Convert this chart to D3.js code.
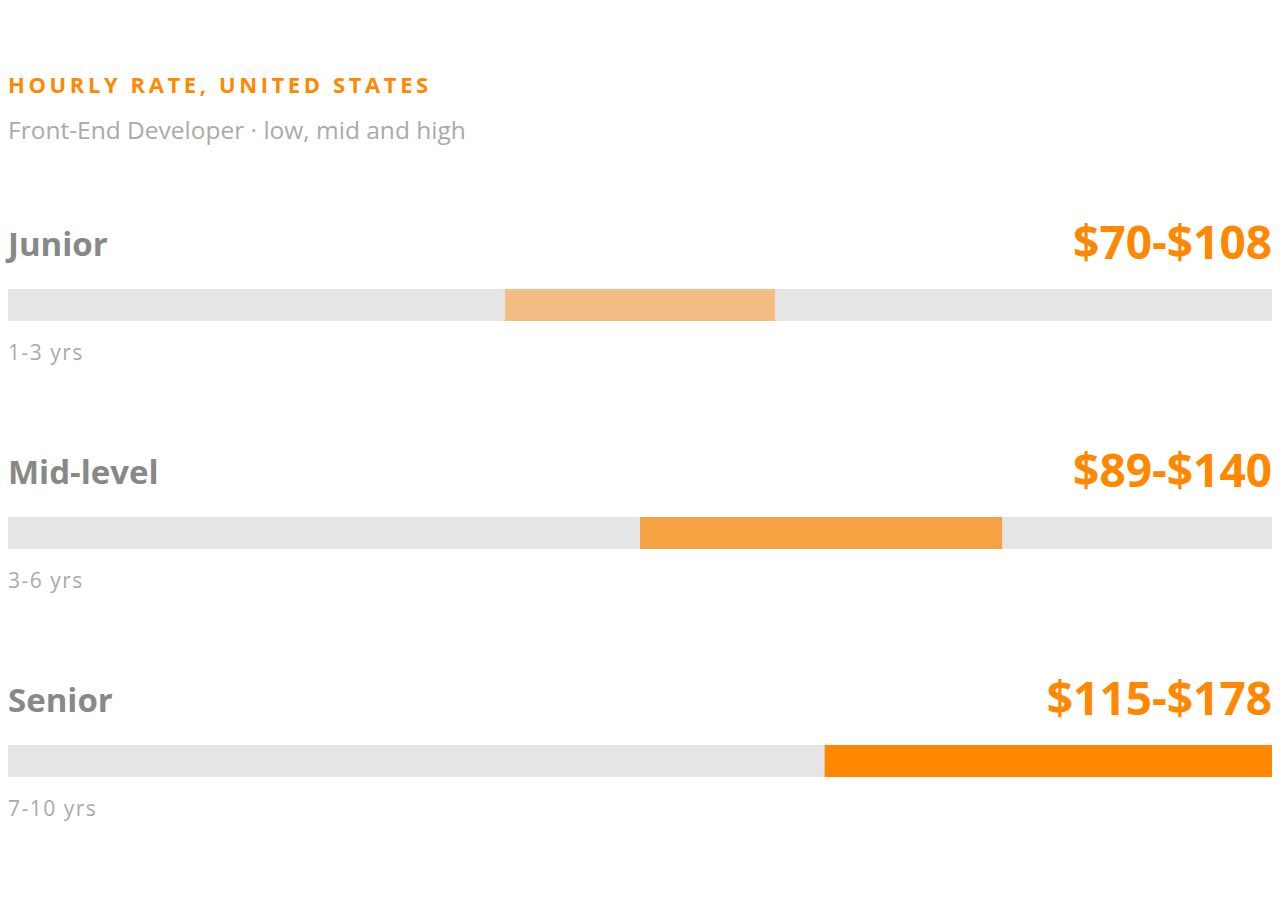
<!DOCTYPE html>
<html>
<head>
<meta charset="utf-8">
<script src="https://cdn.jsdelivr.net/npm/d3@7"></script>
<style>
  body { margin: 0; background: #fff; }
  text { font-family: "Open Sans", "Noto Sans", sans-serif; }
</style>
</head>
<body>
<script>
const width = 1280;
const height = 920;

const levels = ["Junior", "Mid-level", "Senior"];
const lows = [70, 89, 115];
const highs = [108, 140, 178];
const years = ["1-3 yrs", "3-6 yrs", "7-10 yrs"];
const barColors = ["#f2bc82", "#f6a142", "#ff8800"];
const maxRate = 178;

const svg = d3.select("body").append("svg")
    .attr("width", width)
    .attr("height", height);

svg.append("text")
    .attr("x", 8).attr("y", 93)
    .attr("fill", "#ff8800")
    .attr("font-size", 22).attr("font-weight", 700)
    .attr("letter-spacing", 3.6)
    .text("HOURLY RATE, UNITED STATES");

svg.append("text")
    .attr("x", 8).attr("y", 139)
    .attr("fill", "#aaa")
    .attr("font-size", 24.5)
    .text("Front-End Developer · low, mid and high");

const x = d3.scaleLinear().domain([0, maxRate]).range([8, 1272]);
const y = d3.scalePoint().domain(levels).range([289, 745]);

const rows = svg.selectAll("g.row")
    .data(levels)
    .join("g")
    .attr("class", "row")
    .attr("transform", d => `translate(0, ${y(d)})`);

rows.append("rect")
    .attr("x", x(0)).attr("y", 0)
    .attr("width", x(maxRate) - x(0)).attr("height", 32)
    .attr("fill", "#e5e5e5");

rows.append("rect")
    .attr("x", (d, i) => x(lows[i])).attr("y", 0)
    .attr("width", (d, i) => x(highs[i]) - x(lows[i])).attr("height", 32)
    .attr("fill", (d, i) => barColors[i]);

rows.append("text")
    .attr("x", 8).attr("y", -33)
    .attr("fill", "#888")
    .attr("font-size", 33).attr("font-weight", 700)
    .text(d => d);

rows.append("text")
    .attr("x", 1272).attr("y", -30)
    .attr("text-anchor", "end")
    .attr("fill", "#ff8800")
    .attr("font-size", 46).attr("font-weight", 700)
    .text((d, i) => `$${lows[i]}-$${highs[i]}`);

rows.append("text")
    .attr("x", 8).attr("y", 71)
    .attr("fill", "#aaa")
    .attr("font-size", 21)
    .attr("letter-spacing", 1.5)
    .text((d, i) => years[i]);
</script>
</body>
</html>
